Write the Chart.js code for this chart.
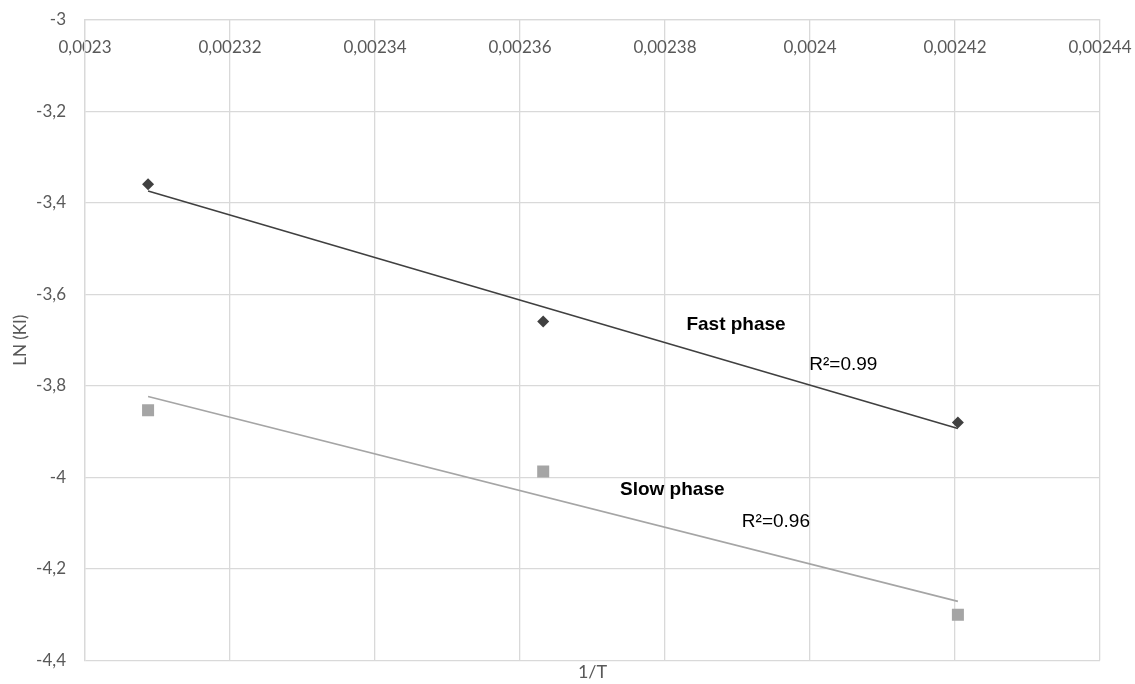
<!DOCTYPE html>
<html>
<head>
<meta charset="utf-8">
<script src="https://cdn.jsdelivr.net/npm/chart.js@4"></script>
<style>
  html, body { margin: 0; padding: 0; background: #fff; }
  #wrap { width: 1135px; height: 684px; }
</style>
</head>
<body>
<div id="wrap"><canvas id="lnChart"></canvas></div>
<script>
// values
var invT = [0.0023087, 0.0023632, 0.0024204];
var fastLn = [-3.359, -3.659, -3.880];
var slowLn = [-3.853, -3.987, -4.300];
// trendline ends as drawn
var fastTrend = [-3.374, -3.893];
var slowTrend = [-3.823, -4.271];
var xTicks = [0.0023, 0.00232, 0.00234, 0.00236, 0.00238, 0.0024, 0.00242, 0.00244];
var yTicks = [-3, -3.2, -3.4, -3.6, -3.8, -4, -4.2, -4.4];
var notes = [
  { text: "Fast phase", x: 0.0023898, y: -3.667, bold: true },
  { text: "R\u00b2=0.99", x: 0.0024046, y: -3.753, bold: false },
  { text: "Slow phase", x: 0.0023810, y: -4.028, bold: true },
  { text: "R\u00b2=0.96", x: 0.0023953, y: -4.098, bold: false }
];

function pairs(xs, ys) {
  let arr = [];
  for (let i in xs) {
    arr.push({ x: xs[i], y: ys[i] });
  }
  return arr;
}

function comma(v) {
  return String(v).replace(".", ",");
}

var noteText = {
  id: "noteText",
  afterDatasetsDraw(chart) {
    var ctx = chart.ctx;
    var xs = chart.scales.x, ys = chart.scales.y;
    ctx.save();
    ctx.fillStyle = "#000";
    ctx.textAlign = "center";
    ctx.textBaseline = "middle";
    notes.forEach(function (n) {
      ctx.font = (n.bold ? "bold " : "") + "19px 'Liberation Sans', Arial, sans-serif";
      ctx.fillText(n.text, xs.getPixelForValue(n.x), ys.getPixelForValue(n.y));
    });
    ctx.restore();
  }
};

var tickFont = { family: "Lato, 'Open Sans', sans-serif", size: 17 };
var grey = "#595959";
var gridCol = "#d9d9d9";

var data = {
  datasets: [
    {
      label: "Fast phase",
      data: pairs(invT, fastLn),
      showLine: false,
      pointStyle: "rectRot",
      pointRadius: 6,
      backgroundColor: "#404040",
      borderColor: "#404040",
      borderWidth: 0
    },
    {
      label: "Slow phase",
      data: pairs(invT, slowLn),
      showLine: false,
      pointStyle: "rect",
      pointRadius: 8.5,
      backgroundColor: "#a5a5a5",
      borderColor: "#a5a5a5",
      borderWidth: 0
    },
    {
      label: "Fast trend",
      data: pairs([invT[0], invT[2]], fastTrend),
      showLine: true,
      pointRadius: 0,
      borderColor: "#404040",
      borderWidth: 1.6
    },
    {
      label: "Slow trend",
      data: pairs([invT[0], invT[2]], slowTrend),
      showLine: true,
      pointRadius: 0,
      borderColor: "#a5a5a5",
      borderWidth: 1.6
    }
  ]
};

var config = {
  type: "scatter",
  data: data,
  options: {
    responsive: true,
    maintainAspectRatio: false,
    animation: false,
    layout: { padding: { top: 20, right: 35, left: 10, bottom: 1 } },
    plugins: {
      legend: { display: false },
      tooltip: { enabled: false }
    },
    scales: {
      x: {
        type: "linear",
        position: { y: -3 },
        min: xTicks[0],
        max: xTicks[xTicks.length - 1],
        afterBuildTicks: function (s) { s.ticks = xTicks.map(function (v) { return { value: v }; }); },
        afterFit: function (s) { s.height = 0; s.paddingLeft = 0; s.paddingRight = 0; },
        ticks: { color: grey, font: tickFont, padding: 17, maxRotation: 0, callback: function (v) { return comma(v); } },
        grid: { color: gridCol, lineWidth: 1.3, drawTicks: false },
        border: { color: gridCol, width: 1.3 }
      },
      x2: {
        type: "linear",
        position: "bottom",
        min: 0, max: 1,
        ticks: { display: false },
        grid: { display: false, drawTicks: false },
        border: { display: false },
        title: { display: true, text: "1/T", color: grey, font: { family: "Lato, sans-serif", size: 18 }, padding: { top: 1, bottom: 0 } }
      },
      y: {
        min: yTicks[yTicks.length - 1],
        max: yTicks[0],
        afterBuildTicks: function (s) { s.ticks = yTicks.map(function (v) { return { value: v }; }); },
        afterFit: function (s) { s.width = 75; s.paddingTop = 0; s.paddingBottom = 0; },
        ticks: { color: grey, font: tickFont, padding: 19, callback: function (v) { return comma(v); } },
        grid: { color: gridCol, lineWidth: 1.3, drawTicks: false },
        border: { color: gridCol, width: 1.3 },
        title: { display: true, text: "LN (KI)", color: grey, font: { family: "Lato, sans-serif", size: 17 }, padding: { top: 0, bottom: 4 } }
      }
    }
  },
  plugins: [noteText]
};

var chart = new Chart(document.getElementById("lnChart"), config);
</script>
</body>
</html>
